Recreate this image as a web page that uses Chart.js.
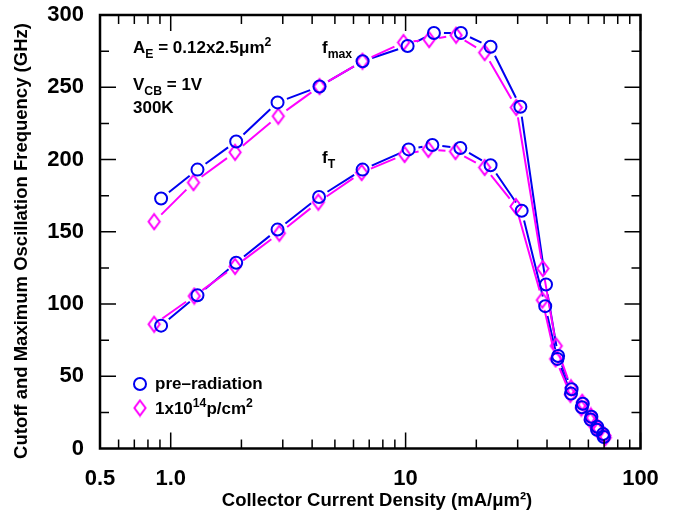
<!DOCTYPE html>
<html>
<head>
<meta charset="utf-8">
<script src="https://cdn.jsdelivr.net/npm/chart.js@4.4.1/dist/chart.umd.min.js"></script>
<style>
  html, body { margin: 0; padding: 0; background: #fff; }
</style>
</head>
<body>
<canvas id="chart" width="685" height="516"></canvas>
<script>
// Collector current density (mA/um^2) and frequency (GHz)
const preFmaxX = [0.91, 1.30, 1.90, 2.85, 4.30, 6.56, 10.2, 13.2, 17.2, 23.0, 30.8, 39.6, 44.6, 50.9, 56.8, 61.8, 65.5, 69.3];
const preFmaxY = [173, 193, 212.5, 239.5, 250.5, 268, 278.5, 287.5, 287.5, 278, 236.5, 113.5, 64, 41, 31, 22, 15, 10];

const preFtX = [0.91, 1.30, 1.90, 2.85, 4.28, 6.56, 10.3, 13.0, 17.1, 23.0, 31.2, 39.3, 44.3, 50.6, 56.3, 61.3, 65.3, 69.8];
const preFtY = [85, 106, 128.5, 151.5, 174, 193, 207, 210, 208, 196, 164.5, 98.5, 62, 38, 28.5, 20, 13, 8];

const radFmaxX = [0.85, 1.25, 1.88, 2.87, 4.30, 6.55, 9.8, 12.6, 16.4, 21.7, 29.6, 38.4, 43.8, 50.6, 56.5, 61.5, 66.0, 70.5];
const radFmaxY = [157, 184, 205, 230, 250.5, 268, 281, 283, 286, 274, 236, 124.5, 71, 42, 32, 22.5, 14.5, 9];

const radFtX = [0.85, 1.26, 1.88, 2.90, 4.25, 6.50, 9.9, 12.5, 16.3, 21.7, 29.5, 38.2, 43.5, 50.3, 56.0, 61.2, 65.8, 70.8];
const radFtY = [86, 105.5, 126, 149, 170.5, 191, 203.5, 207, 205.5, 194.5, 167.5, 102.7, 62, 37.5, 28, 19.5, 12.5, 7.5];

const xTickValues = [0.5, 1, 10, 100];
const xTickLabels = ['0.5', '1.0', '10', '100'];
const xMinorValues = [0.6, 0.7, 0.8, 0.9, 2, 3, 4, 5, 6, 7, 8, 9, 20, 30, 40, 50, 60, 70, 80, 90];
const xMajorValues = [1, 10, 100];

const blue = '#0000f0';
const magenta = '#ff00ff';
const font = '"Liberation Sans", Arial, Helvetica, sans-serif';

const toPoints = (xs, ys) => xs.map((x, i) => ({ x, y: ys[i] }));

// Diamond marker, a bit taller than wide
function makeDiamond(color) {
  const c = document.createElement('canvas');
  c.width = 16;
  c.height = 19;
  const g = c.getContext('2d');
  g.strokeStyle = color;
  g.lineWidth = 2;
  g.beginPath();
  g.moveTo(8, 2);
  g.lineTo(13.6, 9.5);
  g.lineTo(8, 17);
  g.lineTo(2.4, 9.5);
  g.closePath();
  g.stroke();
  return c;
}
const diamond = makeDiamond(magenta);

// Lines between markers, stopping short of each marker
const gapLines = {
  id: 'gapLines',
  beforeDatasetsDraw(chart) {
    const ctx = chart.ctx;
    const gap = 10;
    ctx.save();
    ctx.lineWidth = 2;
    chart.data.datasets.forEach((ds, di) => {
      const pts = chart.getDatasetMeta(di).data;
      ctx.strokeStyle = ds.lineColor;
      ctx.beginPath();
      for (let i = 0; i < pts.length - 1; i++) {
        const a = pts[i], b = pts[i + 1];
        const dx = b.x - a.x, dy = b.y - a.y;
        const len = Math.hypot(dx, dy);
        if (len <= 2 * gap) continue;
        const ux = dx / len, uy = dy / len;
        ctx.moveTo(a.x + ux * gap, a.y + uy * gap);
        ctx.lineTo(b.x - ux * gap, b.y - uy * gap);
      }
      ctx.stroke();
    });
    ctx.restore();
  }
};

// Frame and inward ticks on all four sides
const frameTicks = {
  id: 'frameTicks',
  afterDatasetsDraw(chart) {
    const { ctx, chartArea: a, scales } = chart;
    const xs = scales.x, ys = scales.y;
    ctx.save();
    ctx.strokeStyle = '#000';
    ctx.lineWidth = 1.5;
    ctx.beginPath();
    const tickX = (v, len) => {
      const px = xs.getPixelForValue(v);
      ctx.moveTo(px, a.bottom);
      ctx.lineTo(px, a.bottom - len);
      ctx.moveTo(px, a.top);
      ctx.lineTo(px, a.top + len);
    };
    xMinorValues.forEach(v => tickX(v, 9));
    xMajorValues.forEach(v => tickX(v, 16));
    for (let v = 25; v < 300; v += 25) {
      const py = ys.getPixelForValue(v);
      const len = v % 50 === 0 ? 16 : 9;
      ctx.moveTo(a.left, py);
      ctx.lineTo(a.left + len, py);
      ctx.moveTo(a.right, py);
      ctx.lineTo(a.right - len, py);
    }
    ctx.stroke();
    ctx.lineWidth = 2.5;
    ctx.strokeRect(a.left, a.top, a.right - a.left, a.bottom - a.top);
    ctx.restore();
  }
};

// Text with sub/superscripts: parts are [text, 'sub'|'sup'|undefined]
function richText(ctx, x, y, parts, size) {
  let cx = x;
  parts.forEach(([t, kind]) => {
    const s = kind ? size * 0.72 : size;
    const dy = kind === 'sub' ? size * 0.3 : kind === 'sup' ? -size * 0.42 : 0;
    ctx.font = `bold ${s}px ${font}`;
    ctx.fillText(t, cx, y + dy);
    cx += ctx.measureText(t).width;
  });
}

const annotations = {
  id: 'annotations',
  afterDraw(chart) {
    const ctx = chart.ctx;
    ctx.save();
    ctx.fillStyle = '#000';
    ctx.textBaseline = 'alphabetic';
    ctx.textAlign = 'left';
    richText(ctx, 133, 53, [['A'], ['E', 'sub'], [' = 0.12x2.5\u03bcm'], ['2', 'sup']], 17);
    richText(ctx, 133, 90, [['V'], ['CB', 'sub'], [' = 1V']], 17);
    richText(ctx, 133, 113, [['300K']], 17);
    richText(ctx, 322, 53, [['f'], ['max', 'sub']], 17);
    richText(ctx, 322, 163, [['f'], ['T', 'sub']], 17);

    // legend
    ctx.lineWidth = 2;
    ctx.strokeStyle = blue;
    ctx.beginPath();
    ctx.arc(140, 384, 6, 0, Math.PI * 2);
    ctx.stroke();
    ctx.drawImage(diamond, 132, 398.5);
    richText(ctx, 155, 389, [['pre\u2013radiation']], 17);
    richText(ctx, 155, 414, [['1x10'], ['14', 'sup'], ['p/cm'], ['2', 'sup']], 17);

    // axis titles
    ctx.textAlign = 'center';
    ctx.textBaseline = 'middle';
    ctx.font = `bold 18.5px ${font}`;
    ctx.save();
    ctx.translate(22, 241);
    ctx.rotate(-Math.PI / 2);
    ctx.fillText('Cutoff and Maximum Oscillation Frequency (GHz)', 0, 0);
    ctx.restore();
    ctx.fillText('Collector Current Density (mA/\u03bcm\u00b2)', 377, 501);
    ctx.restore();
  }
};

new Chart(document.getElementById('chart'), {
  type: 'scatter',
  data: {
    datasets: [
      { data: toPoints(preFmaxX, preFmaxY), lineColor: blue, borderColor: blue, pointStyle: 'circle', pointRadius: 6, pointBorderWidth: 2, backgroundColor: 'transparent' },
      { data: toPoints(preFtX, preFtY), lineColor: blue, borderColor: blue, pointStyle: 'circle', pointRadius: 6, pointBorderWidth: 2, backgroundColor: 'transparent' },
      { data: toPoints(radFmaxX, radFmaxY), lineColor: magenta, borderColor: magenta, pointStyle: diamond, pointRadius: 8 },
      { data: toPoints(radFtX, radFtY), lineColor: magenta, borderColor: magenta, pointStyle: diamond, pointRadius: 8 }
    ]
  },
  options: {
    responsive: false,
    animation: false,
    events: [],
    layout: { padding: { top: 15, right: 44.5, left: 0, bottom: 0 } },
    plugins: { legend: { display: false }, tooltip: { enabled: false } },
    scales: {
      x: {
        type: 'logarithmic',
        min: 0.5,
        max: 100,
        grid: { display: false },
        border: { display: false },
        afterBuildTicks: scale => { scale.ticks = xTickValues.map(v => ({ value: v })); },
        afterFit: scale => {
          scale.height = 67.5;
          scale.paddingLeft = 0;
          scale.paddingRight = 0;
        },
        ticks: {
          padding: 9,
          color: '#000',
          maxRotation: 0,
          autoSkip: false,
          font: { family: font, size: 22, weight: 'bold' },
          callback: value => xTickLabels[xTickValues.indexOf(value)]
        }
      },
      y: {
        min: 0,
        max: 300,
        grid: { display: false },
        border: { display: false },
        afterFit: scale => {
          scale.width = 100;
          scale.paddingTop = 0;
          scale.paddingBottom = 0;
        },
        ticks: {
          stepSize: 50,
          padding: 8,
          color: '#000',
          font: { family: font, size: 22, weight: 'bold' }
        }
      }
    }
  },
  plugins: [gapLines, frameTicks, annotations]
});
</script>
</body>
</html>
